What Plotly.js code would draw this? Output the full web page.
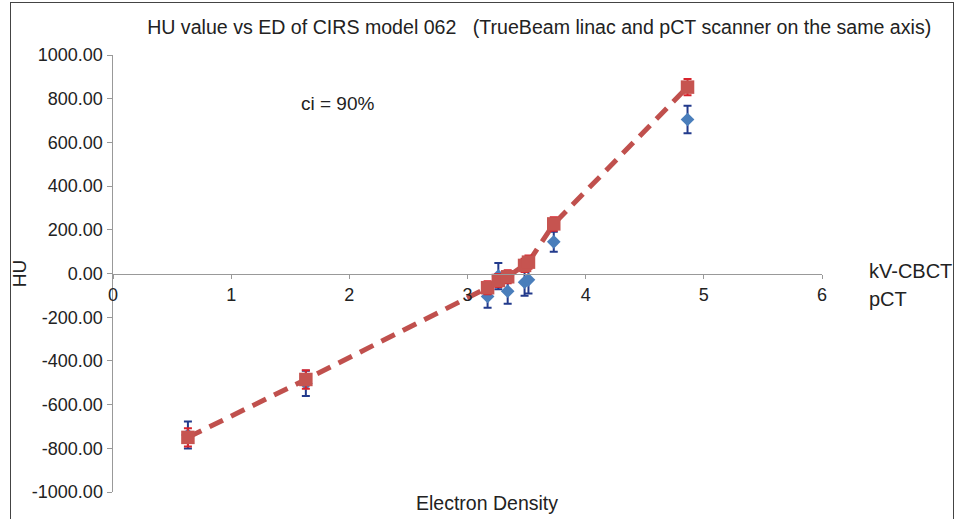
<!DOCTYPE html>
<html>
<head>
<meta charset="utf-8">
<script src="https://cdn.plot.ly/plotly-3.0.1.min.js"></script>
<style>
  html, body { margin: 0; padding: 0; background: #fff; }
  #wrap { position: relative; width: 956px; height: 519px; overflow: hidden; }
  #chart { width: 956px; height: 519px; }
  #frame { position: absolute; left: 10px; top: 2px; width: 944px; height: 560px;
           border: 1.5px solid #444; pointer-events: none; box-sizing: border-box; }
</style>
</head>
<body>
<div id="wrap">
  <div id="chart"></div>
  <div id="frame"></div>
</div>
<script>
// Electron density (x 10^23 e/cm^3) of CIRS 062 inserts
const ed = [0.634, 1.632, 3.170, 3.261, 3.340, 3.483, 3.516, 3.730, 4.862];
// kV-CBCT (TrueBeam) HU values and error
const cbctHU  = [-739, -503, -105, -12, -81, -40, -29, 145, 705];
const cbctErr = [62, 58, 52, 60, 58, 62, 62, 46, 63];
// pCT HU values and error
const pctHU  = [-750, -485, -65, -32, -15, 37, 52, 227, 853];
const pctErr = [42, 42, 30, 30, 30, 30, 30, 31, 37];

const seriesNames = ['kV-CBCT', 'pCT'];
const yTicks = [-1000, -800, -600, -400, -200, 0, 200, 400, 600, 800, 1000];
const xTicks = [0, 1, 2, 3, 4, 5, 6];

const font = 'Liberation Sans, Arial, sans-serif';

const traces = [
  {
    x: ed, y: cbctHU, name: seriesNames[0], type: 'scatter', mode: 'markers',
    marker: { symbol: 'diamond', size: 10.5, color: '#4a7ebb' },
    error_y: { type: 'data', array: cbctErr, visible: true, color: '#223a8c', thickness: 2, width: 4 },
    showlegend: false
  },
  {
    x: ed, y: pctHU, name: seriesNames[1], type: 'scatter', mode: 'lines',
    line: { color: '#c0504d', width: 5, dash: '15px,9px' },
    showlegend: false, hoverinfo: 'skip'
  },
  {
    x: ed, y: pctHU, name: seriesNames[1], type: 'scatter', mode: 'markers',
    marker: { symbol: 'square', size: 13.5, color: '#c65450' },
    error_y: { type: 'data', array: pctErr, visible: true, color: '#d8232c', thickness: 2, width: 4 },
    showlegend: false
  }
];

const layout = {
  width: 956, height: 519,
  margin: { l: 113, r: 134, t: 55, b: 27 },
  paper_bgcolor: '#fff', plot_bgcolor: '#fff',
  font: { family: font, size: 18, color: '#222' },
  showlegend: false,
  title: {
    text: 'HU value vs ED of CIRS model 062   (TrueBeam linac and pCT scanner on the same axis)',
    font: { family: font, size: 19.6, color: '#222' },
    x: 0.564, xanchor: 'center', y: 0.947, yanchor: 'middle'
  },
  xaxis: {
    range: [0, 6], tickvals: xTicks, ticktext: xTicks.map(String),
    showgrid: false, zeroline: false, showline: true, linecolor: '#999', linewidth: 1.5,
    ticks: 'outside', ticklen: 4, tickcolor: '#999',
    anchor: 'free', position: 0.5,
    tickfont: { family: font, size: 18, color: '#222' }
  },
  yaxis: {
    range: [-1000, 1000], tickvals: yTicks, ticktext: yTicks.map(v => v.toFixed(2)),
    showgrid: false, zeroline: false, showline: true, linecolor: '#999', linewidth: 1.5,
    ticks: 'outside', ticklen: 5, tickcolor: '#999',
    tickfont: { family: font, size: 18, color: '#222' },
    title: { text: 'HU', font: { family: font, size: 19, color: '#222' }, standoff: 0 }
  },
  annotations: [
    { text: 'ci = 90%', xref: 'x', yref: 'y', x: 1.9, y: 778, showarrow: false,
      font: { family: font, size: 19, color: '#222' } },
    { text: 'Electron Density', xref: 'paper', yref: 'paper', x: 0.527, y: -0.025,
      yanchor: 'middle', showarrow: false, font: { family: font, size: 19.5, color: '#222' } },
    { text: seriesNames[0], xref: 'paper', yref: 'paper', x: 1.064, y: 0.5 + 3/437,
      xanchor: 'left', yanchor: 'middle', showarrow: false, font: { family: font, size: 20, color: '#222' } },
    { text: seriesNames[1], xref: 'paper', yref: 'paper', x: 1.064, y: 0.5 - 25/437,
      xanchor: 'left', yanchor: 'middle', showarrow: false, font: { family: font, size: 20, color: '#222' } }
  ]
};

Plotly.newPlot('chart', traces, layout, { staticPlot: true, displayModeBar: false });
</script>
</body>
</html>
